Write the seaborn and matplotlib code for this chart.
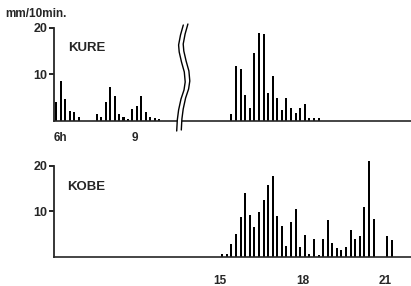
import numpy as np
import pandas as pd
import matplotlib
matplotlib.use("Agg")
import matplotlib.pyplot as plt
import seaborn as sns
from matplotlib.lines import Line2D
from matplotlib.patches import Polygon

# ---------------- data (10-min rainfall, mm/10min, interval start times) ----------------
kure_am_time = ["06:00", "06:10", "06:20", "06:30", "06:40", "06:50",
                "07:30", "07:40", "07:50", "08:00", "08:10", "08:20", "08:30",
                "08:40", "08:50", "09:00", "09:10", "09:20", "09:30", "09:40", "09:50"]
kure_am_rain = [3.9, 8.6, 4.6, 2.1, 1.8, 0.7,
                1.5, 0.7, 3.9, 7.2, 5.3, 1.4, 0.8,
                0.4, 2.5, 3.2, 5.4, 1.8, 0.7, 0.5, 0.4]

kure_pm_time = ["15:20", "15:30", "15:40", "15:50", "16:00", "16:10", "16:20", "16:30",
                "16:40", "16:50", "17:00", "17:10", "17:20", "17:30", "17:40", "17:50",
                "18:00", "18:10", "18:20", "18:30"]
kure_pm_rain = [1.3, 11.8, 11.1, 5.5, 2.6, 14.5, 18.9, 18.7,
                6.0, 9.6, 4.8, 2.2, 4.8, 2.7, 1.7, 2.6,
                3.6, 0.6, 0.5, 0.5]

kobe_time = ["15:00", "15:10", "15:20", "15:30", "15:40", "15:50", "16:00", "16:10",
             "16:20", "16:30", "16:40", "16:50", "17:00", "17:10", "17:20", "17:30",
             "17:40", "17:50", "18:00", "18:10", "18:20", "18:30", "18:40", "18:50",
             "19:00", "19:10", "19:20", "19:30", "19:40", "19:50", "20:00", "20:10",
             "20:20", "20:30", "21:00", "21:10"]
kobe_rain = [0.6, 0.6, 2.9, 5.0, 8.7, 13.9, 9.2, 6.5,
             9.9, 12.4, 15.8, 17.8, 9.0, 6.7, 2.4, 7.7,
             10.5, 2.2, 4.8, 0.5, 4.0, 0.3, 3.9, 8.1,
             3.1, 2.0, 1.5, 2.2, 5.8, 3.9, 4.5, 11.0,
             21.0, 8.2, 4.6, 3.6]

y_ticks = [10, 20]
y_ticklabels = ["10", "20"]
kure_xticks = [6, 9]
kure_xticklabels = ["6h", "9"]
kobe_xticks = [15, 18, 21]
kobe_xticklabels = ["15", "18", "21"]


def slot_centre_hours(times):
    return [int(t[:2]) + int(t[3:]) / 60 + 5 / 60 for t in times]


# ---------------- figure ----------------
sns.set_style("ticks")
plt.rcParams["font.family"] = ["Liberation Sans", "DejaVu Sans"]
plt.rcParams["font.weight"] = "bold"

W, H = 411, 286
fig = plt.figure(figsize=(W / 100, H / 100), dpi=100)


def px_rect(x0, x1, ybase, ytop):
    return [x0 / W, 1 - ybase / H, (x1 - x0) / W, (ybase - ytop) / H]


top_base, top_scale, top_max = 120.5, 4.625, 20.5
bot_base, bot_scale, bot_max = 256.7, 4.55, 21.5

ax_tl = fig.add_axes(px_rect(54, 180, top_base, top_base - top_max * top_scale))
ax_tr = fig.add_axes(px_rect(180, 411, top_base, top_base - top_max * top_scale))
ax_b = fig.add_axes(px_rect(54, 411, bot_base, bot_base - bot_max * bot_scale))

panels = [
    (ax_tl, kure_am_time, kure_am_rain),
    (ax_tr, kure_pm_time, kure_pm_rain),
    (ax_b, kobe_time, kobe_rain),
]
for ax, t, r in panels:
    df = pd.DataFrame({"hour": slot_centre_hours(t), "rain": r})
    sns.barplot(data=df, x="hour", y="rain", native_scale=True, color="black",
                saturation=1, width=0.45, errorbar=None, linewidth=0, ax=ax)
    ax.set_xlabel("")
    ax.set_ylabel("")
    ax.set_facecolor("none")
    for s in ["top", "right"]:
        ax.spines[s].set_visible(False)
    ax.spines["bottom"].set_linewidth(1.2)
    ax.spines["left"].set_linewidth(1.3)

ax_tl.set_xlim(6.0, 6.0 + 126 / 26.9)
ax_tr.set_xlim(15 - 40 / 27.5, 15 + 191 / 27.5)
ax_b.set_xlim(15 - 166 / 27.5, 15 + 191 / 27.5)
for ax in (ax_tl, ax_tr):
    ax.set_ylim(0, top_max)
ax_b.set_ylim(0, bot_max)

for ax in (ax_tl, ax_b):
    ax.spines["left"].set_bounds(0, 20)
    ax.set_yticks(y_ticks, y_ticklabels)
    ax.tick_params(axis="y", length=3.5, width=1.2, pad=1.5, labelsize=9,
                   direction="out", color="black")

ax_tr.spines["left"].set_visible(False)
ax_tr.set_yticks([])
ax_tr.set_xticks([])

ax_tl.set_xticks(kure_xticks, kure_xticklabels)
ax_tl.tick_params(axis="x", length=0, pad=8.5, labelsize=8.5)
ax_tl.get_xticklabels()[0].set_horizontalalignment("left")

ax_b.set_xticks(kobe_xticks, kobe_xticklabels)
ax_b.tick_params(axis="x", length=0, pad=13, labelsize=8.5)

# ---------------- texts ----------------
fig.text(5 / W, 1 - 14 / H, "mm/10min.", fontsize=8.5, fontweight="bold",
         ha="left", va="center")
fig.text(68 / W, 1 - 48 / H, "KURE", fontsize=9.5, fontweight="bold",
         ha="left", va="center")
fig.text(67 / W, 1 - 187 / H, "KOBE", fontsize=9.5, fontweight="bold",
         ha="left", va="center")

# ---------------- axis-break symbol ----------------
bx = np.array([183.3, 180.5, 178.6, 179.2, 181.5, 184.3, 185.2, 184.0, 181.0, 178.6, 177.3, 176.7])
by = np.array([25.0, 35.0, 45.0, 52.0, 62.0, 72.0, 82.0, 90.0, 99.0, 110.0, 120.0, 131.0])
dx, dy = 4.6, -1.0
lx, ly = bx / W, 1 - by / H
rx, ry = (bx + dx) / W, 1 - (by + dy) / H
poly = Polygon(np.column_stack([np.r_[lx, rx[::-1]], np.r_[ly, ry[::-1]]]),
               closed=True, facecolor="white", edgecolor="none",
               transform=fig.transFigure, zorder=5)
fig.add_artist(poly)
fig.add_artist(Line2D(lx, ly, color="black", lw=1.0, transform=fig.transFigure, zorder=6))
fig.add_artist(Line2D(rx, ry, color="black", lw=1.0, transform=fig.transFigure, zorder=6))

fig.savefig("out.png", dpi=100, facecolor="white")
